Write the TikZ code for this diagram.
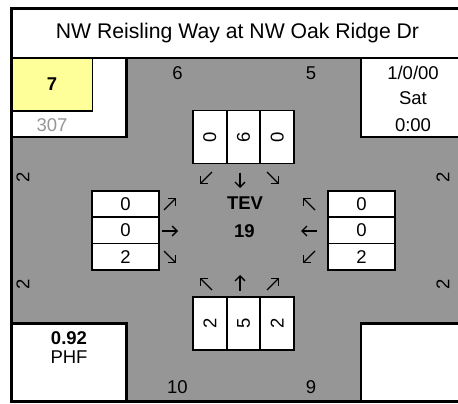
\documentclass[tikz,border=0pt]{standalone}
\usepackage{fontspec}
\setmainfont{Liberation Sans}
\usetikzlibrary{arrows.meta}
\definecolor{roadgray}{RGB}{150,150,150}
\definecolor{padyellow}{RGB}{255,255,153}
\definecolor{softgray}{RGB}{150,150,150}
\begin{document}
\begin{tikzpicture}[x=1pt,y=-1pt,
  framestyle/.style={line width=3pt},
  cornerbox/.style={fill=white,draw=black,line width=2.2pt},
  vcell/.style={draw=black,fill=white,line width=1.8pt,rotate=90,minimum width=53pt,minimum height=33.6pt,inner sep=0pt,font=\fontsize{18.5}{20}\selectfont},
  hcell/.style={draw=black,fill=white,line width=1.8pt,minimum width=67pt,minimum height=26.3pt,inner sep=0pt,font=\fontsize{18.5}{20}\selectfont},
  lbl/.style={inner sep=0pt,font=\fontsize{18.5}{20}\selectfont},
  blbl/.style={inner sep=0pt,font=\bfseries\fontsize{18.5}{20}\selectfont},
  rlbl/.style={lbl,rotate=90},
  flowarrow/.style={line width=1.3pt,-{Straight Barb[length=5pt,width=10pt]}},
]
\useasboundingbox (0,0) rectangle (458,404);
\clip (0,0) rectangle (458,404);
% road area
\fill[roadgray] (12,58) rectangle (470,401);
% corner boxes
\draw[cornerbox] (0,58) rectangle (126.5,137);
\draw[cornerbox] (361,58) rectangle (470,137);
\draw[cornerbox] (0,323.5) rectangle (126.5,410);
\draw[cornerbox] (361,323.5) rectangle (470,410);
\draw[fill=padyellow,draw=black,line width=1.6pt] (0,58) rectangle (92.5,111);
% title band and frame
\fill[white] (0,0) rectangle (470,58);
\draw[line width=2.6pt] (11.5,58) -- (470,58);
\draw[framestyle] (11.5,8.3) rectangle (470,401.5);
\fill[white] (0,0) rectangle (10,404);
\fill[white] (0,0) rectangle (458,6.8);
\fill[white] (0,403) rectangle (458,404);

\node[font=\fontsize{21.2}{23}\selectfont] (title) at (237.5,33) {NW Reisling Way at NW Oak Ridge Dr};

% corner texts
\node[blbl] (peak) at (52,84.5) {7};
\node[lbl,text=softgray] (site) at (52,125) {307};
\node[lbl] (date) at (413,73) {1/0/00};
\node[lbl] (day) at (413,98.5) {Sat};
\node[lbl] (time) at (413,125) {0:00};
\node[blbl] (phfv) at (69,338) {0.92};
\node[lbl] (phf) at (69,357.5) {PHF};

% approach totals
\node[lbl] (nin) at (177.5,73) {6};
\node[lbl] (nout) at (311,73) {5};
\node[lbl] (sin) at (177.5,387) {10};
\node[lbl] (sout) at (311,387) {9};
\node[rlbl] (wtop) at (23,177) {2};
\node[rlbl] (wbot) at (23,284) {2};
\node[rlbl] (etop) at (443,177) {2};
\node[rlbl] (ebot) at (443,284) {2};

% north approach
\node[vcell] (n1) at (209.8,137) {0};
\node[vcell] (n2) at (243.5,137) {6};
\node[vcell] (n3) at (277.2,137) {0};
% south approach
\node[vcell] (s1) at (209.8,323.5) {2};
\node[vcell] (s2) at (243.5,323.5) {5};
\node[vcell] (s3) at (277.2,323.5) {2};
% west approach
\node[hcell] (w1) at (125.5,204) {0};
\node[hcell] (w2) at (125.5,230.3) {0};
\node[hcell] (w3) at (125.5,256.6) {2};
% east approach
\node[hcell] (e1) at (361.5,204) {0};
\node[hcell] (e2) at (361.5,230.3) {0};
\node[hcell] (e3) at (361.5,256.6) {2};

\node[blbl] (tev) at (245,203.5) {TEV};
\node[blbl] (tevn) at (244.5,231) {19};

% movement arrows
% north (southbound)
\draw[flowarrow] (212,172) -- (200,184);
\draw[flowarrow] (240,172.5) -- (240,188);
\draw[flowarrow] (267,172) -- (279,184);
% south (northbound)
\draw[flowarrow] (212,290) -- (200,278);
\draw[flowarrow] (240,290.5) -- (240,275);
\draw[flowarrow] (267,290) -- (279,278);
% west (eastbound)
\draw[flowarrow] (164,210) -- (176,198);
\draw[flowarrow] (162,231) -- (178,231);
\draw[flowarrow] (164,251) -- (176,263);
% east (westbound)
\draw[flowarrow] (315,210) -- (303,198);
\draw[flowarrow] (317,231) -- (301,231);
\draw[flowarrow] (315,251) -- (303,263);
\end{tikzpicture}
\end{document}
